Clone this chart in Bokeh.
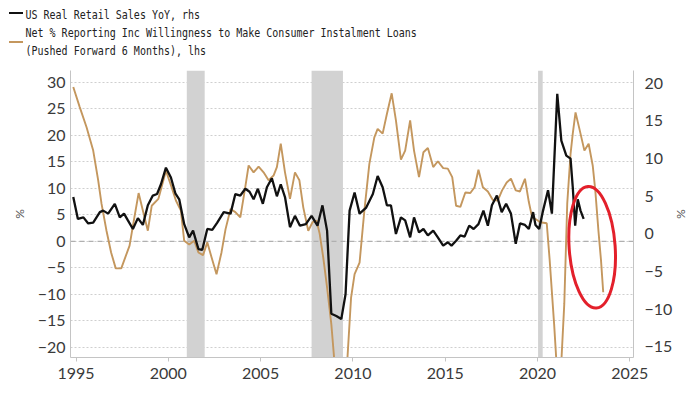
from bokeh.plotting import figure
from bokeh.layouts import column
from bokeh.models import Range1d, LinearAxis, FixedTicker, BoxAnnotation, Span, Div
from bokeh.embed import file_html
from bokeh.resources import INLINE

# ---- data ----
loan_years = [1994.85, 1995.2, 1995.57, 1995.93, 1996.2, 1996.38, 1996.65, 1996.9,
              1997.15, 1997.45, 1997.9, 1998.13, 1998.39, 1998.62, 1998.89, 1999.1,
              1999.46, 1999.87, 2000.15, 2000.41, 2000.68, 2000.86, 2001.13, 2001.4,
              2001.63, 2001.88, 2002.11, 2002.34, 2002.61, 2002.88, 2003.1, 2003.37,
              2003.63, 2003.9, 2004.14, 2004.35, 2004.62, 2004.89, 2005.16, 2005.43,
              2005.7, 2005.88, 2006.09, 2006.32, 2006.59, 2006.86, 2007.1, 2007.31,
              2007.58, 2007.81, 2008.03, 2008.2, 2008.39, 2008.6, 2008.83, 2009.1,
              2009.35, 2009.6, 2009.9, 2010.09, 2010.36, 2010.62, 2010.89, 2011.16,
              2011.34, 2011.61, 2011.84, 2012.1, 2012.33, 2012.6, 2012.83, 2013.1,
              2013.31, 2013.58, 2013.82, 2014.06, 2014.35, 2014.6, 2014.89, 2015.14,
              2015.38, 2015.59, 2015.82, 2016.09, 2016.36, 2016.59, 2016.8, 2017.04,
              2017.31, 2017.58, 2017.85, 2018.08, 2018.33, 2018.56, 2018.82, 2019.05,
              2019.32, 2019.53, 2019.71, 2019.89, 2020.15, 2020.5, 2020.66, 2020.9,
              2021.17, 2021.45, 2021.61, 2021.79, 2021.91, 2022.06, 2022.27, 2022.54,
              2022.77, 2022.99, 2023.13, 2023.3, 2023.44, 2023.56]
loan_values = [29.1, 25.3, 21.5, 17.1, 11.5, 7.1, 2.0, -2.1,
               -5.1, -5.1, -0.8, 3.9, 9.1, 5.8, 2.0, 6.7,
               8.0, 13.3, 10.5, 7.7, 5.8, 0.1, -0.6, 0.1,
               -2.1, -2.6, -0.2, -3.0, -6.2, -2.1, 2.3, 6.1,
               5.5, 4.5, 9.6, 14.3, 13.0, 14.1, 13.0, 11.5,
               12.4, 14.0, 18.4, 13.0, 8.0, 13.0, 11.5, 6.4,
               2.0, 3.6, 3.9, 1.4, -3.0, -8.7, -15.6, -27.0,
               -40.0, -28.0, -10.6, -6.2, -4.0, 5.8, 14.6, 19.6,
               21.2, 20.3, 24.0, 27.9, 22.8, 15.4, 17.1, 22.8,
               17.1, 12.1, 16.8, 17.6, 14.0, 15.1, 13.8, 13.7,
               12.1, 6.7, 6.5, 9.2, 9.1, 10.2, 13.5, 10.2,
               9.4, 7.8, 7.7, 9.6, 11.1, 11.8, 9.6, 9.4,
               11.8, 7.4, 4.5, 4.2, 3.6, 3.4, -3.6, -15.6,
               -31.0, -11.8, 7.1, 16.5, 20.3, 24.3, 21.2, 17.1,
               18.4, 14.3, 9.6, 2.0, -3.6, -9.6]

sales_years = [1994.85, 1995.1, 1995.4, 1995.66, 1995.93, 1996.29, 1996.47, 1996.74,
               1997.1, 1997.37, 1997.6, 1997.81, 1998.08, 1998.35, 1998.62, 1998.89,
               1999.16, 1999.39, 1999.6, 1999.87, 2000.14, 2000.38, 2000.59, 2000.86,
               2001.13, 2001.34, 2001.63, 2001.84, 2002.11, 2002.38, 2002.65, 2003.0,
               2003.37, 2003.63, 2003.9, 2004.17, 2004.4, 2004.62, 2004.85, 2005.12,
               2005.34, 2005.61, 2005.88, 2006.09, 2006.32, 2006.59, 2006.86, 2007.13,
               2007.45, 2007.76, 2008.08, 2008.35, 2008.6, 2008.83, 2009.1, 2009.37,
               2009.6, 2009.82, 2010.09, 2010.36, 2010.72, 2011.08, 2011.34, 2011.61,
               2011.84, 2012.06, 2012.33, 2012.6, 2012.83, 2013.1, 2013.31, 2013.58,
               2013.82, 2014.06, 2014.35, 2014.6, 2014.89, 2015.14, 2015.34, 2015.59,
               2015.82, 2016.05, 2016.3, 2016.54, 2016.8, 2017.07, 2017.31, 2017.53,
               2017.8, 2018.06, 2018.3, 2018.56, 2018.82, 2019.05, 2019.32, 2019.53,
               2019.76, 2019.89, 2020.09, 2020.3, 2020.57, 2020.78, 2021.07, 2021.29,
               2021.56, 2021.79, 2021.91, 2022.04, 2022.18, 2022.33, 2022.5]
sales_values = [4.9, 2.0, 2.2, 1.4, 1.5, 2.9, 3.1, 2.7,
                4.0, 2.2, 2.7, 1.8, 0.66, 2.1, 1.2, 3.8,
                5.1, 5.3, 6.6, 8.8, 7.5, 5.4, 4.6, 1.3,
                -0.45, 0.44, -2.0, -2.1, 0.66, 0.53, 1.5, 2.9,
                2.7, 5.3, 5.1, 6.0, 5.6, 4.6, 6.0, 4.0,
                6.2, 7.4, 5.0, 6.6, 4.9, 0.9, 2.4, 1.1,
                1.3, 2.4, 1.1, 3.8, 0.44, -10.6, -10.9, -11.3,
                -8.0, 3.1, 5.5, 2.7, 3.5, 5.3, 7.7, 6.2,
                3.8, 3.8, 0.0, 2.2, 1.8, -0.45, 2.2, 0.2,
                0.66, -0.2, 0.44, -0.45, -1.55, -1.1, -1.55, -0.9,
                -0.2, -0.35, 1.1, 0.66, 1.3, 3.1, 1.1, 3.8,
                5.1, 2.9, 4.0, 2.7, -1.3, 1.4, 1.2, 0.66,
                2.9, 1.2, 0.66, 3.1, 5.8, 2.7, 18.6, 12.4,
                10.4, 10.0, 6.2, 1.1, 4.6, 3.1, 2.0]

recession_start = [2001.0, 2007.76, 2020.03]
recession_end = [2001.97, 2009.46, 2020.28]

x_ticks = [1995, 2000, 2005, 2010, 2015, 2020, 2025]
lhs_ticks = [-20, -15, -10, -5, 0, 5, 10, 15, 20, 25, 30]
rhs_ticks = [-15, -10, -5, 0, 5, 10, 15, 20]

legend_sales = "US Real Retail Sales YoY, rhs"
legend_loans_1 = "Net % Reporting Inc Willingness to Make Consumer Instalment Loans"
legend_loans_2 = "(Pushed Forward 6 Months), lhs"

# ---- styles ----
TAN = "#c4975e"
BLACK = "#111111"
AXIS_GRAY = "#c4c4c4"
TICK_FONT = "Lato"
LEG_FONT = "'DejaVu Sans Mono', monospace"

W = 684
LEG_H = 52
MAIN_H = 378 - LEG_H

# ---- legend (HTML block above the chart) ----
def _txt(t, top):
    return ("<div style=\"position:absolute;left:17.5px;top:%spx;white-space:nowrap;"
            "line-height:12px;transform:scaleY(1.3);transform-origin:0 0;\">%s</div>"
            % (top, t.replace("%", "&#37;")))

def _dash(color, top, h):
    return ("<div style=\"position:absolute;left:1px;top:%spx;width:14px;height:%spx;"
            "background:%s;\"></div>" % (top, h, color))

legend_html = (
    "<div style=\"position:relative;width:%dpx;height:%dpx;font-family:%s;"
    "font-size:10px;color:#222222;\">" % (W, LEG_H, LEG_FONT)
    + _dash(BLACK, 3.8, 2.4)
    + _txt(legend_sales, -1.5)
    + _txt(legend_loans_1, 17.2)
    + _txt(legend_loans_2, 35.2)
    + _dash(TAN, 32.8, 2.2)
    + "</div>"
)
legend_div = Div(text=legend_html, width=W, height=LEG_H, margin=0)

# ---- main chart ----
p = figure(width=W, height=MAIN_H, output_backend="svg", toolbar_location=None,
           x_range=Range1d(1994.7, 2025.2), y_range=Range1d(-21.9, 32.2),
           min_border_left=60, min_border_right=58, min_border_top=10,
           min_border_bottom=29, title=None)
p.outline_line_color = None
p.extra_y_ranges = {"rhs": Range1d(-16.4, 21.7)}

p.xgrid.grid_line_color = None
p.ygrid.ticker = FixedTicker(ticks=lhs_ticks)
p.ygrid.grid_line_color = "#cfcfcf"
p.ygrid.grid_line_dash = "2 2"
p.ygrid.grid_line_width = 1

for s, e in zip(recession_start, recession_end):
    p.add_layout(BoxAnnotation(left=s, right=e, fill_color="#d2d2d2",
                               fill_alpha=1.0, line_color=None, level="underlay"))

p.add_layout(Span(location=0, dimension="width", line_color="#b0b0b0",
                  line_dash="5 4", line_width=1.2, level="underlay"))

xa = p.xaxis[0]
xa.ticker = FixedTicker(ticks=x_ticks)
xa.axis_line_color = AXIS_GRAY
xa.major_tick_line_color = AXIS_GRAY
xa.major_tick_in = 0
xa.major_tick_out = 4
xa.minor_tick_line_color = None
xa.major_label_standoff = 6
xa.major_label_text_font = TICK_FONT
xa.major_label_text_font_size = "16px"
xa.major_label_text_color = "#3a3a3a"

ya = p.yaxis[0]
ya.ticker = FixedTicker(ticks=lhs_ticks)
ya.axis_line_color = AXIS_GRAY
ya.major_tick_line_color = None
ya.major_tick_out = 0
ya.major_tick_in = 0
ya.minor_tick_line_color = None
ya.major_label_standoff = 5
ya.major_label_text_font = TICK_FONT
ya.major_label_text_font_size = "16px"
ya.major_label_text_color = "#3a3a3a"
ya.axis_label = "%"
ya.axis_label_standoff = 8
ya.axis_label_text_font = TICK_FONT
ya.axis_label_text_font_size = "12px"
ya.axis_label_text_font_style = "normal"
ya.axis_label_text_color = "#555555"

ra = LinearAxis(y_range_name="rhs", ticker=FixedTicker(ticks=rhs_ticks))
ra.axis_line_color = AXIS_GRAY
ra.major_tick_line_color = None
ra.major_tick_out = 0
ra.major_tick_in = 0
ra.minor_tick_line_color = None
ra.major_label_standoff = 11
ra.major_label_text_font = TICK_FONT
ra.major_label_text_font_size = "16px"
ra.major_label_text_color = "#3a3a3a"
ra.axis_label = "%"
ra.axis_label_standoff = -1
ra.axis_label_text_font = TICK_FONT
ra.axis_label_text_font_size = "12px"
ra.axis_label_text_font_style = "normal"
ra.axis_label_text_color = "#555555"
p.add_layout(ra, "right")

p.line(loan_years, loan_values, line_color=TAN, line_width=1.9)
p.line(sales_years, sales_values, line_color=BLACK, line_width=2.3,
       y_range_name="rhs")

# red highlight ellipse
p.ellipse(x=[2022.96], y=[-1.13], width=46, height=122, width_units="screen",
          height_units="screen", angle=0.07, fill_color=None,
          line_color="#e3202b", line_width=3)

layout = column(legend_div, p, spacing=0, margin=(8, 0, 0, 8))
open("out.html", "w").write(file_html(layout, INLINE))
